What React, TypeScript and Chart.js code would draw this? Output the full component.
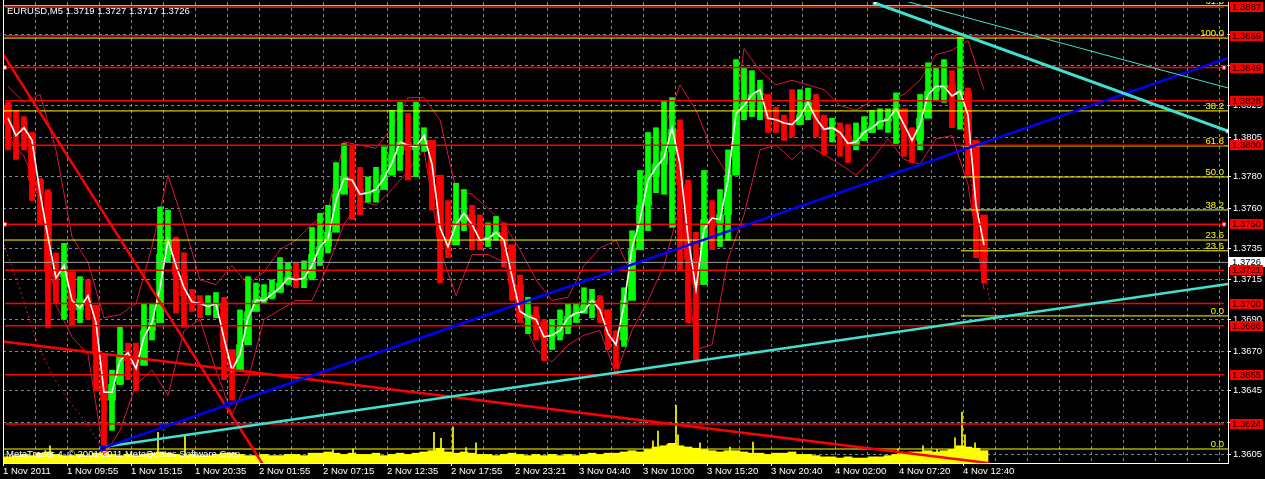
import React, { useEffect, useRef } from 'react';
import { Chart, registerables } from 'chart.js';

Chart.register(...registerables);

// ---------- text ----------
const symbolTitle = 'EURUSD,M5';
const lastBarOHLC = [1.3719, 1.3727, 1.3717, 1.3726];
const copyrightText = 'MetaTrader 4, \u00A9 2001-2011 MetaQuotes Software Corp.';

// ---------- axes ----------
const timeLabels = [
  '1 Nov 2011', '1 Nov 09:55', '1 Nov 15:15', '1 Nov 20:35', '2 Nov 01:55', '2 Nov 07:15',
  '2 Nov 12:35', '2 Nov 17:55', '2 Nov 23:21', '3 Nov 04:40', '3 Nov 10:00', '3 Nov 15:20',
  '3 Nov 20:40', '4 Nov 02:00', '4 Nov 07:20', '4 Nov 12:40',
];
const priceTicks = [1.3605, 1.3625, 1.3645, 1.367, 1.369, 1.3715, 1.3735, 1.376, 1.378, 1.3805, 1.3825, 1.385, 1.387];
const priceMin = 1.359937;
const priceMax = 1.389035;
const barsVisible = 1225;
const gridBarStep = 32;

// ---------- price data (each candle = 8 M5 bars) ----------
const candleSpan = 8;
const firstOpen = 1.3825;
const candleHigh = [
  1.3827, 1.3822, 1.3818, 1.3805, 1.3779, 1.3772, 1.3732, 1.3738, 1.3707, 1.3717,
  1.3715, 1.3696, 1.3645, 1.3658, 1.3685, 1.3675, 1.3675, 1.37, 1.37, 1.3761,
  1.3759, 1.3742, 1.3732, 1.3709, 1.3705, 1.3705, 1.3707, 1.3704, 1.3666, 1.3696,
  1.3717, 1.3713, 1.3712, 1.3715, 1.3729, 1.3726, 1.3726, 1.3727, 1.3748, 1.3757,
  1.3762, 1.3789, 1.3801, 1.38, 1.3786, 1.378, 1.3786, 1.3799, 1.3822, 1.3827,
  1.382, 1.3827, 1.3811, 1.3799, 1.3767, 1.3765, 1.3776, 1.3772, 1.3762, 1.3756,
  1.3751, 1.3755, 1.3751, 1.3737, 1.3718, 1.3704, 1.3698, 1.369, 1.369, 1.3696,
  1.37, 1.37, 1.371, 1.3709, 1.3705, 1.3696, 1.3683, 1.371, 1.3746, 1.3784,
  1.3808, 1.3811, 1.3828, 1.383, 1.3816, 1.3778, 1.3745, 1.3784, 1.3765, 1.3772,
  1.3797, 1.3854, 1.3849, 1.3847, 1.3841, 1.3827, 1.3824, 1.3819, 1.3835, 1.3835,
  1.3836, 1.3832, 1.3819, 1.3817, 1.3814, 1.3813, 1.3814, 1.3818, 1.3822, 1.3823,
  1.3823, 1.3833, 1.3817, 1.3811, 1.3832, 1.3852, 1.3849, 1.3854, 1.3847, 1.3868,
  1.3836, 1.3797, 1.3745,
];
const candleLow = [
  1.3797, 1.3791, 1.3797, 1.3765, 1.375, 1.3685, 1.37, 1.369, 1.3686, 1.3688,
  1.369, 1.3645, 1.3606, 1.362, 1.3649, 1.3652, 1.3645, 1.3666, 1.3677, 1.369,
  1.3726, 1.3694, 1.3685, 1.3695, 1.3691, 1.3693, 1.3691, 1.3652, 1.3639, 1.3658,
  1.369, 1.3697, 1.37, 1.3703, 1.3709, 1.3712, 1.371, 1.371, 1.3715, 1.3724,
  1.3732, 1.3757, 1.3772, 1.3753, 1.3756, 1.3764, 1.3764, 1.3774, 1.3789, 1.3784,
  1.3778, 1.378, 1.3796, 1.3759, 1.3713, 1.3729, 1.3742, 1.3746, 1.3734, 1.3734,
  1.3736, 1.374, 1.3723, 1.3702, 1.3688, 1.3681, 1.3677, 1.3664, 1.3671, 1.3677,
  1.3681, 1.3688, 1.3694, 1.3691, 1.3688, 1.3671, 1.3659, 1.3673, 1.3709, 1.3734,
  1.3746, 1.377, 1.3769, 1.3748, 1.3721, 1.3688, 1.3663, 1.3721, 1.3734, 1.3736,
  1.374, 1.3782, 1.3816, 1.3818, 1.3816, 1.3808, 1.3808, 1.3803, 1.3805, 1.3813,
  1.3816, 1.3805, 1.3794, 1.3802, 1.3793, 1.3789, 1.3797, 1.3803, 1.3808, 1.381,
  1.3808, 1.3801, 1.3793, 1.3789, 1.3797, 1.3822, 1.3828, 1.3827, 1.3811, 1.381,
  1.3781, 1.3729, 1.3713,
];
const candleClose = [
  1.3813, 1.3811, 1.3808, 1.3778, 1.377, 1.372, 1.3717, 1.372, 1.3696, 1.3703,
  1.3699, 1.3668, 1.3639, 1.3649, 1.3668, 1.3664, 1.3661, 1.3683, 1.3688, 1.3731,
  1.374, 1.3718, 1.3705, 1.3701, 1.3699, 1.3699, 1.37, 1.3671, 1.3658, 1.3674,
  1.3695, 1.3702, 1.3704, 1.3707, 1.3713, 1.3717, 1.3715, 1.3716, 1.3731, 1.3736,
  1.3745, 1.3769, 1.378, 1.3773, 1.3769, 1.377, 1.3772, 1.3781, 1.3794, 1.3802,
  1.3797, 1.38, 1.3803, 1.3781, 1.3742, 1.3737, 1.3752, 1.3756, 1.3748, 1.374,
  1.3742, 1.3745, 1.3737, 1.3712, 1.3691, 1.3693, 1.3688, 1.3679, 1.368, 1.3685,
  1.3692, 1.3694, 1.3699, 1.3702, 1.3696, 1.368, 1.3677, 1.3702, 1.3734, 1.3762,
  1.3781, 1.3788, 1.3796, 1.381, 1.3775, 1.3728, 1.3712, 1.3753, 1.3751, 1.3756,
  1.3781, 1.3822, 1.3827, 1.3832, 1.3832, 1.3817, 1.3816, 1.3814, 1.3813, 1.3819,
  1.3827, 1.3817, 1.381, 1.3811, 1.3806, 1.38, 1.3803, 1.3808, 1.3812, 1.3815,
  1.3817, 1.3823, 1.381, 1.3803, 1.3817, 1.3834, 1.3836, 1.3838, 1.3832, 1.3834,
  1.3803, 1.3756, 1.3726,
];
const maLine = [
  1.3817, 1.3806, 1.3811, 1.3803, 1.377, 1.3742, 1.3716, 1.3724, 1.3702, 1.3697,
  1.3705, 1.3688, 1.3644, 1.3644, 1.3664, 1.3669, 1.3659, 1.3679, 1.3688, 1.371,
  1.374, 1.3724, 1.371, 1.3701, 1.37, 1.3698, 1.37, 1.3678, 1.3658, 1.3668,
  1.3691, 1.3702, 1.3702, 1.3706, 1.371, 1.3716, 1.3715, 1.3716, 1.3724, 1.3736,
  1.3741, 1.3765, 1.3779, 1.3778, 1.3769, 1.377, 1.3772, 1.3779, 1.3789, 1.3802,
  1.38, 1.3799, 1.3806, 1.3788, 1.3748, 1.3736, 1.375, 1.3757, 1.375, 1.374,
  1.3741, 1.3745, 1.374, 1.3717, 1.3695, 1.3692, 1.369, 1.3679, 1.368, 1.3683,
  1.3691, 1.3694, 1.3695, 1.3702, 1.3696, 1.3681, 1.3674, 1.3699, 1.3735, 1.3753,
  1.3778, 1.3786, 1.3792, 1.3811, 1.3788, 1.3742, 1.3709, 1.3747, 1.3754, 1.3753,
  1.3778, 1.382, 1.3825, 1.3832, 1.3835, 1.3817, 1.3816, 1.3814, 1.3813, 1.3818,
  1.3827, 1.3817, 1.381, 1.3811, 1.3808, 1.3801, 1.3802, 1.3808, 1.3811, 1.3815,
  1.3816, 1.3823, 1.3813, 1.3803, 1.3813, 1.3832, 1.3837, 1.3837, 1.3831, 1.3834,
  1.3819, 1.3762, 1.3737,
];

// envelope bands (one value every 16 bars)
const bandStep = 16;
const bandUpper = [
  1.3837, 1.3827, 1.3832, 1.3797, 1.3742, 1.3726, 1.3691, 1.3693, 1.37, 1.3736,
  1.3781, 1.375, 1.3715, 1.3712, 1.3724, 1.3712, 1.372, 1.3734, 1.374, 1.375,
  1.3759, 1.3802, 1.38, 1.3798, 1.3811, 1.383, 1.383, 1.3816, 1.3772, 1.3769,
  1.376, 1.375, 1.3734, 1.3715, 1.3702, 1.3704, 1.3724, 1.3735, 1.374, 1.3718,
  1.3778, 1.381, 1.3838, 1.3822, 1.3797, 1.3781, 1.3861, 1.3847, 1.3838, 1.3841,
  1.3838, 1.3835, 1.3825, 1.3822, 1.3828, 1.3828, 1.3832, 1.3841, 1.3857, 1.386,
  1.3866, 1.3835,
];
const bandLower = [
  1.3805, 1.3793, 1.3769, 1.3699, 1.3679, 1.3668, 1.3604, 1.362, 1.3649, 1.3658,
  1.3642, 1.3683, 1.369, 1.3658, 1.363, 1.3652, 1.369, 1.3696, 1.3702, 1.3702,
  1.3724, 1.375, 1.3765, 1.3762, 1.3772, 1.3784, 1.3797, 1.3734, 1.3705, 1.3731,
  1.3731, 1.3726, 1.3693, 1.3671, 1.3663, 1.3674, 1.368, 1.3683, 1.3655, 1.3683,
  1.3702, 1.3724, 1.3762, 1.3671, 1.3674, 1.3728, 1.3756, 1.3797, 1.38, 1.3791,
  1.38, 1.3794, 1.3788, 1.3781, 1.3791, 1.3804, 1.3791, 1.3788, 1.3804, 1.3806,
  1.3775, 1.3709,
];
// dotted shifted average (two visible pieces)
const shiftedLeftBars = [1, 17, 33, 49, 65, 81, 97];
const shiftedLeftPrices = [1.3737, 1.3709, 1.3677, 1.3655, 1.3639, 1.3627, 1.3611];
const shiftedRightBars = [963, 971, 979, 987, 993];
const shiftedRightPrices = [1.3794, 1.3765, 1.3728, 1.3702, 1.3692];

// ---------- tick volume ----------
const volumeTicks = [
  20, 24, 28, 24, 32, 36, 28, 24, 24, 28, 24, 32, 36,
  28, 24, 28, 24, 28, 32, 36, 32, 28, 24, 28, 24, 24,
  28, 32, 32, 28, 24, 24, 28, 24, 24, 28, 28, 24,
  32, 32, 36, 32, 28, 32, 28, 28, 32, 24, 28, 32, 28, 32, 36,
  40, 48, 36, 32, 36, 32, 28, 28, 24, 28, 32, 28, 24,
  28, 24, 28, 24, 28, 24, 28, 32, 28, 32, 32, 36, 40, 36,
  44, 52, 56, 64, 56, 52, 48, 44, 40, 36, 40,
  40, 36, 32, 32, 28, 32, 32, 36, 28, 28,
  24, 20, 20, 16, 20, 16, 16, 20, 20, 24,
  28, 32, 36, 36, 40, 36, 40, 44,
  56, 52, 48, 40,
];
const volumeMax = 1500;
const spikeBars = [47, 99, 155, 182, 330, 350, 431, 438, 450, 463, 473, 650, 655, 664, 673, 675, 697, 727, 750, 895, 920, 934, 952, 959, 962, 972];
const spikeTicks = [56, 52, 100, 92, 44, 46, 100, 80, 118, 50, 66, 72, 104, 60, 188, 92, 66, 52, 68, 46, 56, 44, 82, 166, 92, 66];

// ---------- horizontal objects ----------
const redLevels = [1.3887, 1.3869, 1.3849, 1.3828, 1.38, 1.375, 1.3721, 1.37, 1.3686, 1.3655, 1.3624];
const markedRedLevels = [1.3849, 1.375];
const fibFullLevels = [1.3888, 1.38676, 1.38216, 1.37401, 1.36082];
const fibFullTexts = ['61.8', '100.0', '38.2', '23.6', '0.0'];
const fibPartStartBar = 958;
const fibPartLevels = [1.37995, 1.37799, 1.37591, 1.37333, 1.36922];
const fibPartTexts = ['61.8', '50.0', '38.2', '23.6', '0.0'];
const bidPrice = 1.3726;

// ---------- trend lines (bar, price) ----------
const steepRedBars = [0, 280];
const steepRedPrices = [1.38574, 1.35784];
const shallowRedBars = [0, 987];
const shallowRedPrices = [1.36761, 1.35992];
const blueBars = [100, 160, 224, 1230];
const bluePrices = [1.36088, 1.3622, 1.3636, 1.38561];
const cyanLowBars = [100, 1225];
const cyanLowPrices = [1.36095, 1.37124];
const cyanTopBars = [872, 1225];
const cyanTopPrices = [1.38897, 1.38089];
const cyanThinBars = [902, 1225];
const cyanThinPrices = [1.3891, 1.38361];

// ---------- styling ----------
const FONT_FAMILY = '"Liberation Sans", Arial, sans-serif';
const FONT_SIZE = 9.5;
const FONT = `${FONT_SIZE}px ${FONT_FAMILY}`;
const GRID = '#778899';
const UP = '#00FF00';
const DOWN = '#FF0000';
const YELLOW = '#FFFF00';
const RED = '#FF0000';
const CRIMSON = '#DC143C';
const TURQ = '#40E0D0';

const pts = (bars: number[], prices: number[]) => bars.map((b, i) => ({ x: b, y: prices[i] }));

function lineDs(data: any[], color: string, width: number, order: number, extra: any = {}) {
  return {
    type: 'line',
    data,
    borderColor: color,
    borderWidth: width,
    pointRadius: 0,
    tension: 0,
    fill: false,
    order,
    ...extra,
  };
}

const overlayPlugin = {
  id: 'mtOverlay',
  beforeDraw(chart: any) {
    const { ctx, width, height } = chart;
    ctx.save();
    ctx.fillStyle = '#000';
    ctx.fillRect(0, 0, width, height);
    ctx.restore();
  },
  afterDatasetsDraw(chart: any) {
    const { ctx, chartArea } = chart;
    const ys = chart.scales.y;
    ctx.save();
    ctx.beginPath();
    ctx.rect(chartArea.left, chartArea.top, chartArea.right - chartArea.left, chartArea.bottom - chartArea.top);
    ctx.clip();
    ctx.font = FONT;
    ctx.fillStyle = YELLOW;
    ctx.textAlign = 'right';
    ctx.textBaseline = 'bottom';
    fibFullLevels.forEach((p, i) => ctx.fillText(fibFullTexts[i], chartArea.right - 4, ys.getPixelForValue(p)));
    fibPartLevels.forEach((p, i) => ctx.fillText(fibPartTexts[i], chartArea.right - 4, ys.getPixelForValue(p)));
    ctx.restore();
  },
  afterDraw(chart: any) {
    const { ctx, chartArea } = chart;
    const ys = chart.scales.y;
    ctx.save();
    // left frame
    ctx.strokeStyle = '#FFFFFF';
    ctx.lineWidth = 1;
    ctx.beginPath();
    ctx.moveTo(Math.round(chartArea.left) + 0.5, 0);
    ctx.lineTo(Math.round(chartArea.left) + 0.5, chartArea.bottom);
    ctx.stroke();
    // texts
    ctx.font = FONT;
    ctx.fillStyle = '#FFFFFF';
    ctx.textAlign = 'left';
    ctx.textBaseline = 'alphabetic';
    ctx.fillText(`${symbolTitle} ${lastBarOHLC.map((v) => v.toFixed(4)).join(' ')}`, chartArea.left + 4, 14);
    ctx.fillText(copyrightText, chartArea.left + 3, chartArea.bottom - 6);
    // bid label
    const by = ys.getPixelForValue(bidPrice);
    ctx.fillStyle = '#FFFFFF';
    ctx.fillRect(chartArea.right + 1, Math.round(by) - 5, 40, 10);
    ctx.fillStyle = '#000';
    ctx.textBaseline = 'middle';
    ctx.fillText(bidPrice.toFixed(4), chartArea.right + 4, Math.round(by) + 0.5);
    // red level labels
    redLevels.forEach((p) => {
      const y = Math.round(ys.getPixelForValue(p));
      ctx.fillStyle = RED;
      ctx.fillRect(chartArea.right + 2, y - 5, 33, 10);
      ctx.fillStyle = '#000';
      ctx.fillText(p.toFixed(4), chartArea.right + 4, y + 0.5);
    });
    ctx.restore();
  },
};

export default function App() {
  const canvasRef = useRef<HTMLCanvasElement | null>(null);

  useEffect(() => {
    document.body.style.margin = '0';
    document.body.style.background = '#000';
    const canvas = canvasRef.current;
    if (!canvas) return;

    const candleX = candleClose.map((_, k) => 5 + candleSpan * k);
    const opens = candleClose.map((_, k) => (k === 0 ? firstOpen : candleClose[k - 1]));
    const colors = candleClose.map((c, k) => (c >= opens[k] ? UP : DOWN));

    const datasets: any[] = [];

    // volume
    datasets.push({
      type: 'bar',
      yAxisID: 'yv',
      data: volumeTicks.map((v, k) => ({ x: 5 + candleSpan * k, y: v })),
      backgroundColor: YELLOW,
      barThickness: 8,
      grouped: false,
      borderWidth: 0,
      order: 100,
    });
    datasets.push({
      type: 'bar',
      yAxisID: 'yv',
      data: spikeBars.map((b, i) => ({ x: b, y: spikeTicks[i] })),
      backgroundColor: YELLOW,
      barThickness: 1,
      grouped: false,
      borderWidth: 0,
      order: 99,
    });

    // bands
    datasets.push(lineDs(bandUpper.map((v, j) => ({ x: 5 + bandStep * j, y: v })), CRIMSON, 1, 90));
    datasets.push(lineDs(bandLower.map((v, j) => ({ x: 5 + bandStep * j, y: v })), CRIMSON, 1, 90));
    datasets.push(lineDs(pts(shiftedLeftBars, shiftedLeftPrices), CRIMSON, 1, 90, { borderDash: [2, 3] }));
    datasets.push(lineDs(pts(shiftedRightBars, shiftedRightPrices), CRIMSON, 1, 90, { borderDash: [2, 3] }));

    // candles
    datasets.push({
      type: 'bar',
      data: candleX.map((x, k) => ({ x, y: [candleLow[k], candleHigh[k]] })),
      backgroundColor: colors,
      barThickness: 5,
      grouped: false,
      borderWidth: 0,
      order: 80,
    });
    datasets.push({
      type: 'bar',
      data: candleX.map((x, k) => ({ x, y: [opens[k], candleClose[k]] })),
      backgroundColor: colors,
      barThickness: 7,
      minBarLength: 1,
      grouped: false,
      borderWidth: 0,
      order: 79,
    });

    // moving average
    datasets.push(lineDs(maLine.map((v, k) => ({ x: candleX[k], y: v })), '#FFFFFF', 1.6, 70));

    // horizontal objects
    fibFullLevels.forEach((p) => datasets.push(lineDs([{ x: 0, y: p }, { x: barsVisible, y: p }], YELLOW, 1, 60)));
    fibPartLevels.forEach((p) => datasets.push(lineDs([{ x: fibPartStartBar, y: p }, { x: barsVisible, y: p }], YELLOW, 1, 60)));
    datasets.push(lineDs([{ x: 0, y: bidPrice }, { x: barsVisible, y: bidPrice }], '#A0A0A0', 1, 58));
    redLevels.forEach((p) => {
      const marked = markedRedLevels.includes(p);
      datasets.push(
        lineDs([{ x: 2, y: p }, { x: barsVisible - 4, y: p }], RED, 1.5, 55, marked
          ? { pointRadius: 2.5, pointStyle: 'rect', pointBackgroundColor: '#FFFFFF', pointBorderColor: RED, pointBorderWidth: 1 }
          : {}),
      );
    });

    // trend lines
    datasets.push(lineDs(pts(steepRedBars, steepRedPrices), RED, 2.5, 50));
    datasets.push(lineDs(pts(shallowRedBars, shallowRedPrices), RED, 2.5, 50));
    datasets.push(lineDs(pts(cyanLowBars, cyanLowPrices), TURQ, 2.5, 49));
    datasets.push(lineDs(pts(blueBars, bluePrices), '#0000FF', 2.5, 48, {
      pointRadius: [3, 3, 3, 0], pointStyle: 'rect', pointBackgroundColor: '#000', pointBorderColor: '#0000FF', pointBorderWidth: 1.5,
    }));
    datasets.push(lineDs(pts(cyanTopBars, cyanTopPrices), TURQ, 3, 47, {
      pointRadius: 2.5, pointStyle: 'rect', pointBackgroundColor: '#FFFFFF', pointBorderColor: TURQ, pointBorderWidth: 1,
    }));
    datasets.push(lineDs(pts(cyanThinBars, cyanThinPrices), TURQ, 1, 47));

    Chart.defaults.font.family = FONT_FAMILY;
    Chart.defaults.font.size = FONT_SIZE;

    const chart = new Chart(canvas, {
      type: 'bar',
      data: { datasets },
      options: {
        animation: false,
        responsive: true,
        maintainAspectRatio: false,
        events: [],
        layout: { autoPadding: false, padding: { left: 3, top: 2, right: 0, bottom: 0 } },
        plugins: { legend: { display: false }, tooltip: { enabled: false } },
        scales: {
          x: {
            type: 'linear',
            min: 0,
            max: barsVisible,
            offset: false,
            afterBuildTicks: (s: any) => {
              s.ticks = Array.from({ length: Math.floor(barsVisible / gridBarStep) + 1 }, (_, i) => ({ value: i * gridBarStep }));
            },
            afterFit: (s: any) => {
              s.height = 16;
              s.paddingLeft = 0;
              s.paddingRight = 0;
              s.paddingTop = 0;
              s.paddingBottom = 0;
            },
            grid: {
              color: GRID,
              lineWidth: 1,
              offset: false,
              drawTicks: true,
              tickLength: 3,
              tickWidth: 1,
              tickBorderDash: [],
              tickColor: (c: any) => (c.index % 2 === 0 && c.index / 2 < timeLabels.length ? '#FFFFFF' : 'rgba(0,0,0,0)'),
            },
            border: { display: true, color: '#FFFFFF', width: 1, dash: [3, 3] },
            ticks: {
              color: '#FFFFFF',
              autoSkip: false,
              maxRotation: 0,
              minRotation: 0,
              align: 'start',
              padding: 0,
              font: { family: FONT_FAMILY, size: FONT_SIZE },
              callback: (_v: any, i: number) => (i % 2 === 0 ? timeLabels[i / 2] ?? '' : ''),
            },
          },
          y: {
            type: 'linear',
            position: 'right',
            min: priceMin,
            max: priceMax,
            afterBuildTicks: (s: any) => { s.ticks = priceTicks.map((v) => ({ value: v })); },
            afterFit: (s: any) => {
              s.width = 37;
              s.paddingTop = 0;
              s.paddingBottom = 0;
              s.paddingLeft = 0;
              s.paddingRight = 0;
            },
            grid: { color: GRID, lineWidth: 1, tickLength: 3, tickColor: '#FFFFFF', tickBorderDash: [] },
            border: { display: true, color: '#FFFFFF', width: 1, dash: [3, 3] },
            ticks: {
              color: '#FFFFFF',
              padding: 2,
              autoSkip: false,
              font: { family: FONT_FAMILY, size: FONT_SIZE, lineHeight: 0.4 },
              callback: (v: any) => Number(v).toFixed(4),
            },
          },
          yv: { type: 'linear', display: false, min: 0, max: volumeMax },
        },
      } as any,
      plugins: [overlayPlugin as any],
    });

    return () => chart.destroy();
  }, []);

  return (
    <div style={{ width: 1265, height: 479, background: '#000', position: 'relative' }}>
      <canvas ref={canvasRef} />
    </div>
  );
}
